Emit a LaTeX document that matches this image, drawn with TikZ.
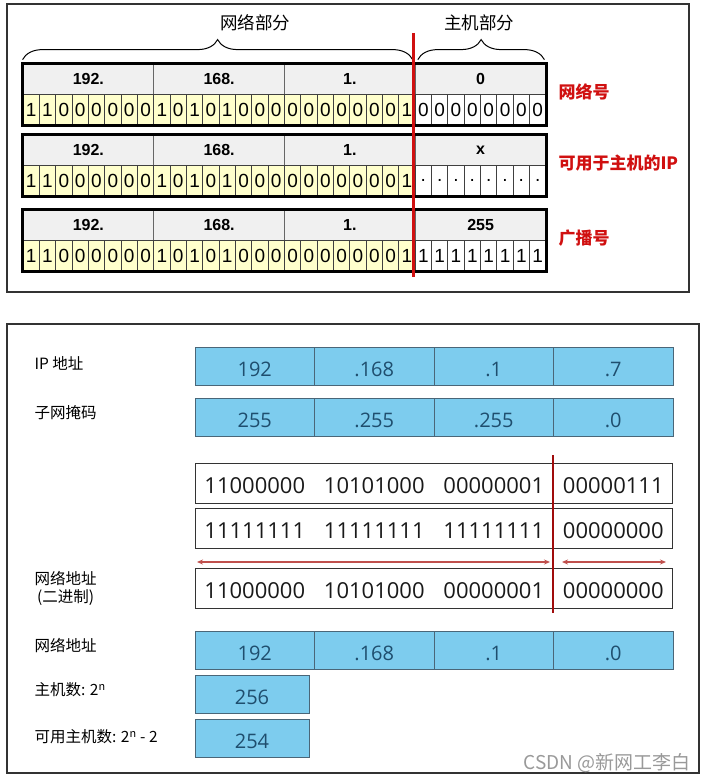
\documentclass[tikz,border=0pt]{standalone}
\usepackage{fontspec}
\setmainfont{Liberation Sans}
\newfontfamily\cjk{Noto Sans CJK SC}
\newfontfamily\seg{Open Sans}
\usetikzlibrary{decorations.pathreplacing,arrows.meta}

\definecolor{hdrgray}{HTML}{F0F0F0}
\definecolor{bityellow}{HTML}{FFFFCC}
\definecolor{cutred}{HTML}{D01010}
\definecolor{darkcut}{HTML}{A00C0C}
\definecolor{skyfill}{HTML}{7DCCEE}
\definecolor{skyedge}{HTML}{4A6678}
\definecolor{skytext}{HTML}{1F4E6E}
\definecolor{arrowred}{HTML}{C0504D}

\begin{document}
\begin{tikzpicture}[x=1pt,y=-1pt,
  hdrcell/.style={draw=black!60, fill=hdrgray, line width=0.8pt, inner sep=0pt,
    minimum width=130.75pt, minimum height=30pt,
    font=\bfseries\fontsize{16}{16}\selectfont},
  bitcell/.style={draw=black!75, line width=0.8pt, inner sep=0pt,
    minimum width=16.34pt, minimum height=31pt, font=\fontsize{19}{19}\selectfont},
  redtag/.style={anchor=west, text=cutred, font=\cjk\bfseries\fontsize{17}{17}\selectfont},
  partlabel/.style={font=\cjk\fontsize{17.5}{17.5}\selectfont},
  sidelabel/.style={anchor=west, align=center, font=\cjk\fontsize{15.5}{18}\selectfont},
  skycell/.style={draw=skyedge, fill=skyfill, line width=1pt, inner sep=0pt,
    minimum height=38pt, text height=21pt, text=skytext, font=\seg\fontsize{20}{20}\selectfont},
  binbox/.style={draw=black!80, line width=1pt, minimum width=477pt, minimum height=40pt},
  bintext/.style={text=black!90, inner sep=0pt, text height=21pt, font=\seg\fontsize{22}{22}\selectfont},
  splitarrow/.style={arrowred, line width=1.5pt, {Stealth[length=6pt,width=5pt]}-{Stealth[length=6pt,width=5pt]}}]

  \useasboundingbox (0,0) rectangle (707,781);

  % Top panel
  \draw[black!80, line width=1.2pt] (7,4) rectangle (689,292);

  \foreach \r/\ty/\hv/\hb/\tag in {1/64/0/0/网络号, 2/135/x/./可用于主机的IP, 3/210/255/1/广播号}{
    % header bytes
    \foreach \v [count=\c] in {192.,168.,1.,\hv}
      \node[hdrcell] (h\r-\c) at ({23+130.75*(\c-0.5)},\ty+15) {\v};
    % network bits
    \foreach \b [count=\i] in {1,1,0,0,0,0,0,0,1,0,1,0,1,0,0,0,0,0,0,0,0,0,0,1}
      \node[bitcell, fill=bityellow] (b\r-\i) at ({23+16.34*(\i-0.5)},\ty+45.5) {\b};
    % host bits
    \foreach \i in {25,...,32}
      \node[bitcell, fill=white] (b\r-\i) at ({23+16.34*(\i-0.5)},\ty+45.5) {\hb};
    \draw[line width=2.5pt] (h\r-1.north west) rectangle (b\r-32.south east);
    \node[redtag] (tag\r) at (555,\ty+28) {\tag};
  }

  % Braces
  \draw[decorate, decoration={brace, amplitude=20pt}, line width=1pt]
    ([yshift=4pt]h1-1.north west) -- ([xshift=-3pt,yshift=4pt]h1-3.north east);
  \draw[decorate, decoration={brace, amplitude=20pt}, line width=1pt]
    ([xshift=3pt,yshift=4pt]h1-4.north west) -- ([xshift=-2pt,yshift=4pt]h1-4.north east);
  \node[partlabel] (netpart) at (255,23) {网络部分};
  \node[partlabel] (hostpart) at (479,23) {主机部分};

  % Cut between network and host
  \draw[cutred, line width=3pt] (413,33) -- (413,277);

  % Bottom panel
  \draw[black!80, line width=1.2pt] (7,324) rectangle (699,773);

  \foreach \r/\ty/\va/\vb/\vc/\vd in {ip/347/192/.168/.1/.7, mask/398/255/.255/.255/.0, net/631/192/.168/.1/.0}
    \foreach \v [count=\i] in {\va,\vb,\vc,\vd}
      \node[skycell, minimum width=119.5pt] (\r-\i) at ({195+119.5*(\i-0.5)},\ty+19) {\v};

  \node[skycell, minimum width=114pt] (hosts) at (252,694) {256};
  \node[skycell, minimum width=114pt] (usable) at (252,738.5) {254};

  \foreach \r/\ty/\va/\vb/\vc/\vd in {ipbin/463/11000000/10101000/00000001/00000111,
      maskbin/508/11111111/11111111/11111111/00000000,
      netbin/568/11000000/10101000/00000001/00000000}{
    \node[binbox] (\r) at (433.5,\ty+20) {};
    \foreach \v [count=\i] in {\va,\vb,\vc,\vd}
      \node[bintext] (\r-\i) at ({195+119.5*(\i-0.5)},\ty+20) {\v};
  }

  % Arrows over the network address
  \coordinate (netL) at (197,562);
  \coordinate (netR) at (550,562);
  \coordinate (hostL) at (562,562);
  \coordinate (hostR) at (666,562);
  \draw[splitarrow] (netL) -- (netR);
  \draw[splitarrow] (hostL) -- (hostR);

  \draw[darkcut, line width=2pt] (553,455) -- (553,613);

  % Labels
  \node[sidelabel] (lip) at (31,363) {IP 地址};
  \node[sidelabel] (lmask) at (31,413) {子网掩码};
  \node[sidelabel] (lnetbin) at (31,588) {网络地址\\(二进制)};
  \node[sidelabel] (lnet) at (31,645) {网络地址};
  \node[sidelabel] (lhosts) at (31,690) {主机数: 2\textsuperscript{n}};
  \node[sidelabel] (lusable) at (31,737) {可用主机数: 2\textsuperscript{n} - 2};

  \node[anchor=east, text=black!40, font=\cjk\fontsize{19}{19}\selectfont] (mark) at (694,763) {CSDN @新网工李白};

\end{tikzpicture}
\end{document}
